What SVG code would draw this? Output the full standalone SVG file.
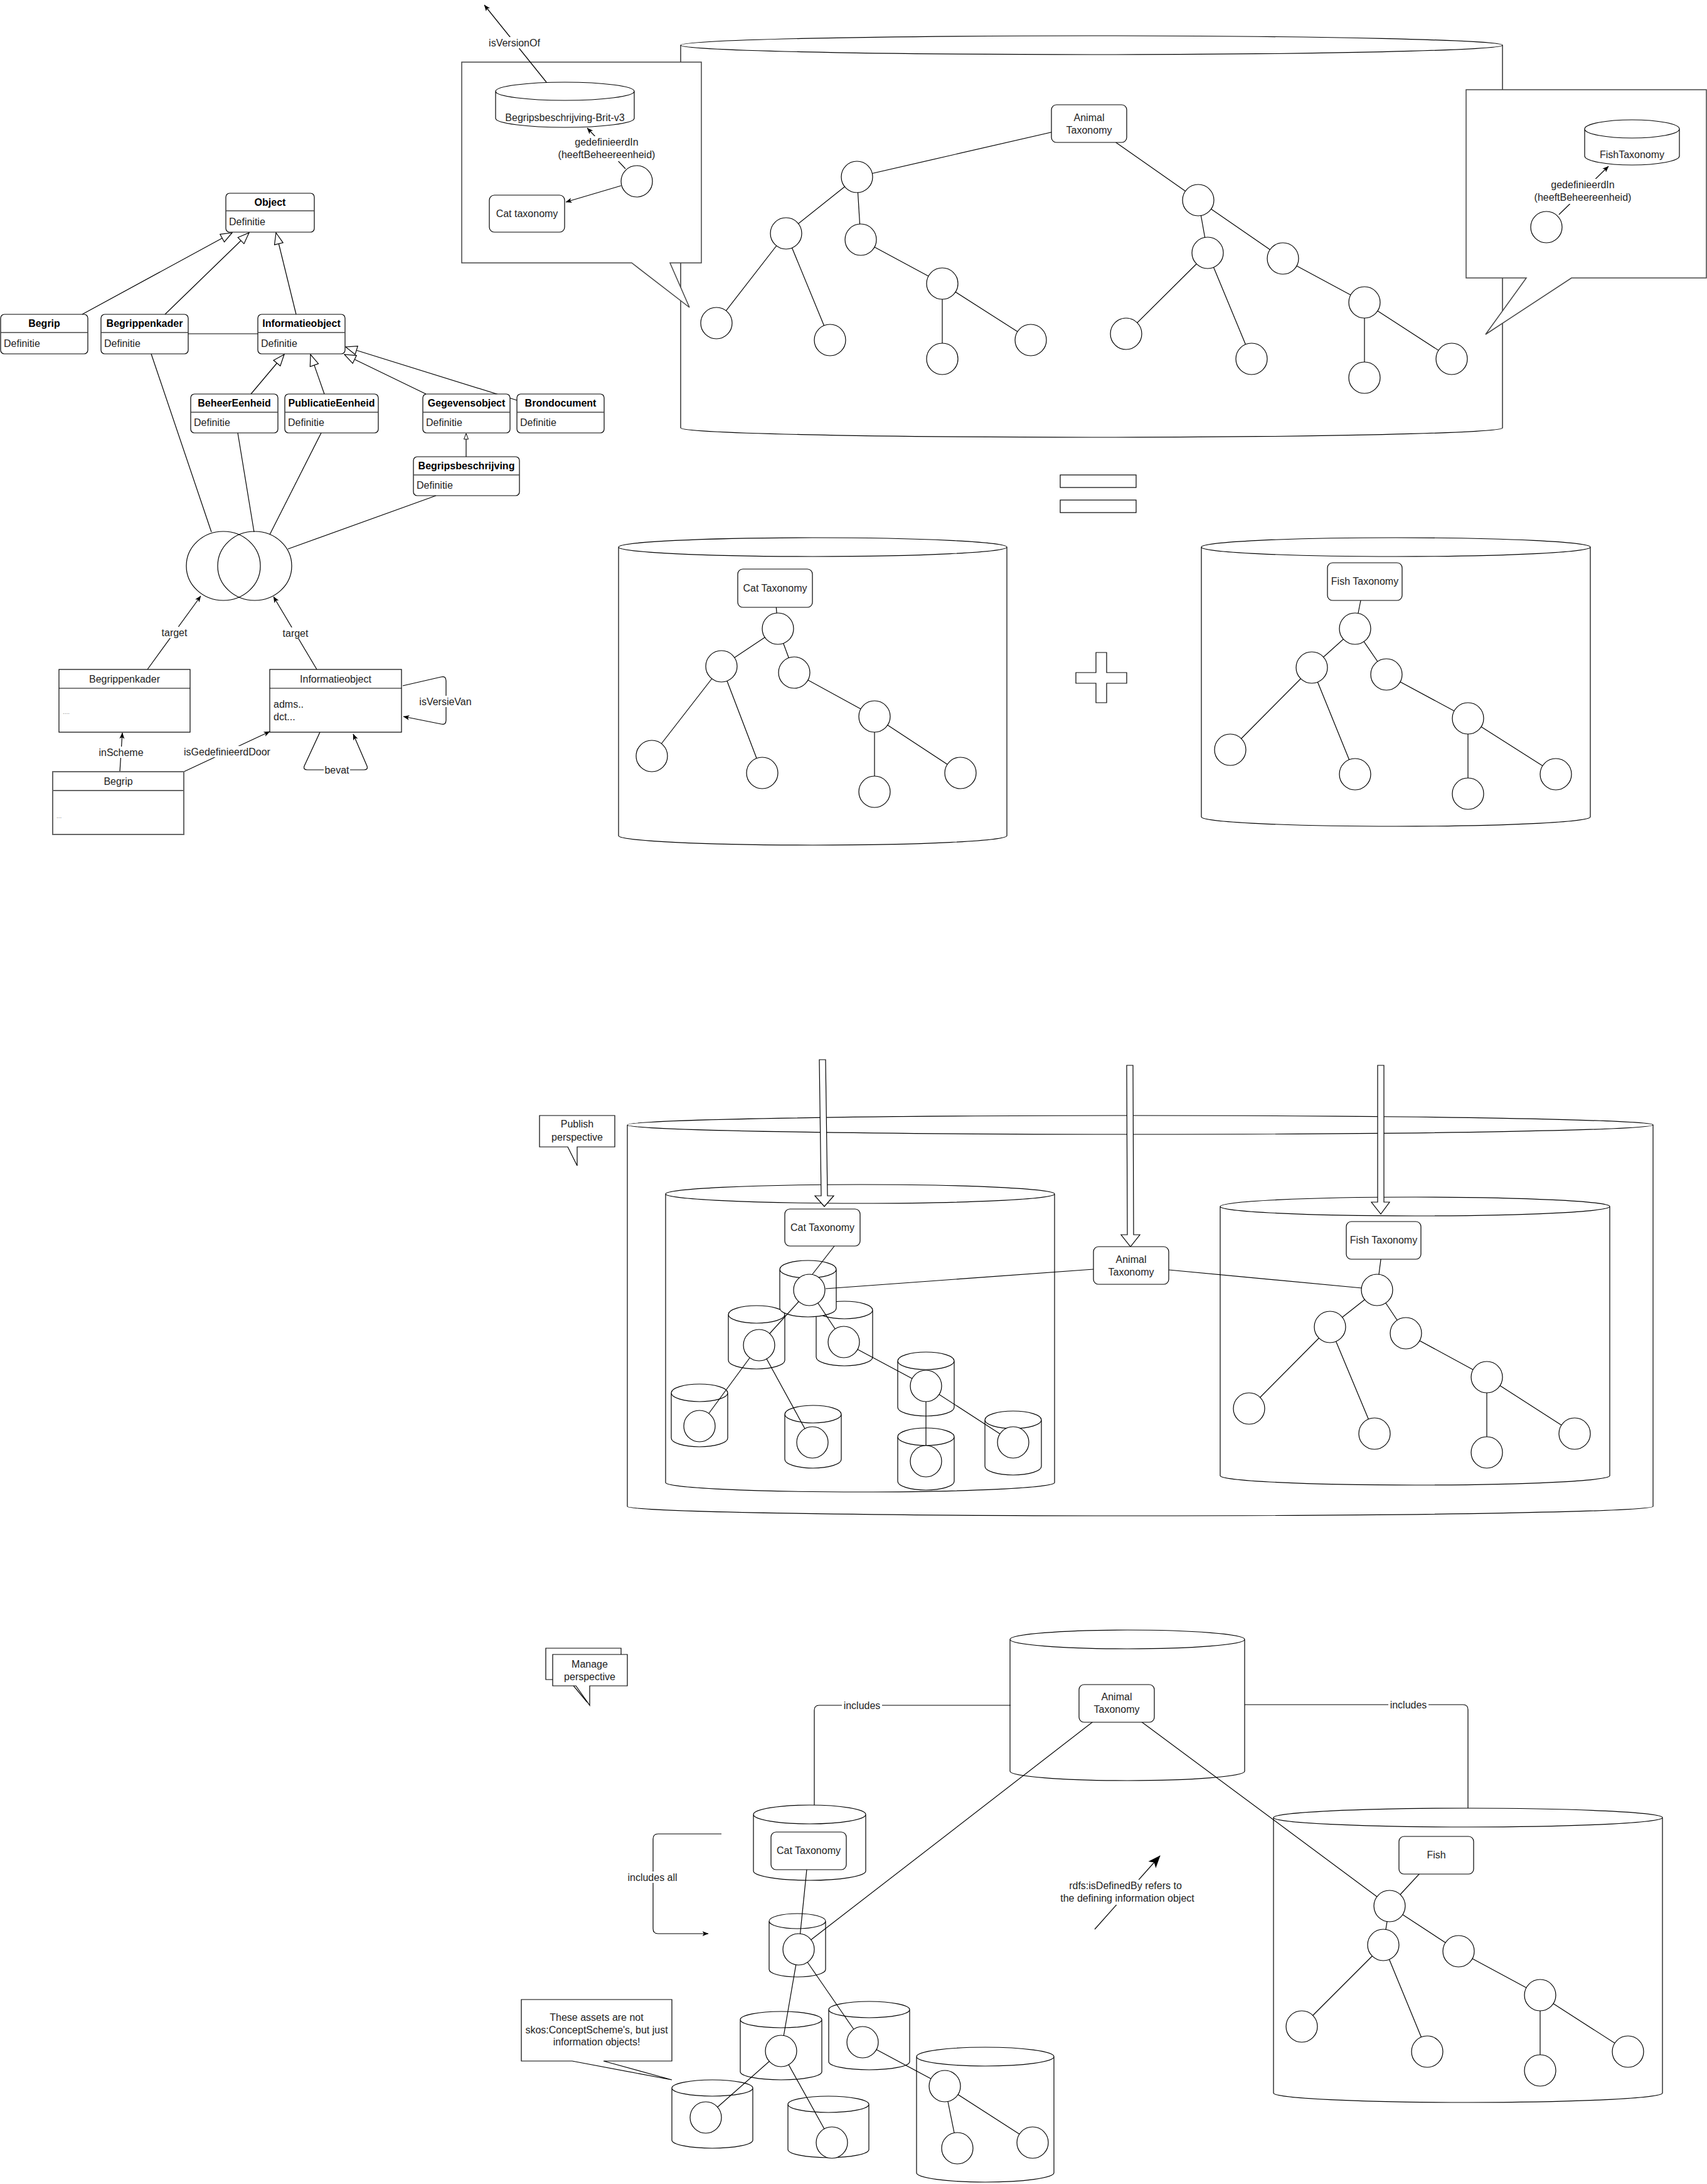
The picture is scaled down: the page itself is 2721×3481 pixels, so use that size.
<svg xmlns="http://www.w3.org/2000/svg" width="2721" height="3481" viewBox="0 0 2721 3481">
<style>
.ln{stroke:#000;stroke-width:1.2;fill:none}
.nd{fill:#fff;stroke:#000;stroke-width:1.2}
.cy{fill:#fff;stroke:#000;stroke-width:1.2}
.co{fill:#fff;stroke:#444;stroke-width:1.5}
.dv{stroke:#444;stroke-width:1.5}
.t{font-family:"Liberation Sans",Arial,Helvetica,sans-serif;font-size:16px;fill:#222}
.s{font-family:"Liberation Sans",Arial,Helvetica,sans-serif;font-size:16px;fill:#222}
.b{font-family:"Liberation Sans",Arial,Helvetica,sans-serif;font-size:16px;font-weight:bold;fill:#000}
.m{text-anchor:middle}
.bg{fill:#fff;stroke:none}
</style>
<defs>
<marker id="arr" viewBox="0 0 10 10" refX="9.5" refY="5" markerWidth="10" markerHeight="10" markerUnits="userSpaceOnUse" orient="auto"><path d="M0,1 L10,5 L0,9 L2.5,5 Z" fill="#000"/></marker>
<marker id="tri" viewBox="0 0 20 16" refX="19" refY="8" markerWidth="20" markerHeight="16" markerUnits="userSpaceOnUse" orient="auto"><path d="M1,1 L19,8 L1,15 Z" fill="#fff" stroke="#000" stroke-width="1.2"/></marker>
<marker id="tris" viewBox="0 0 10 8" refX="9.5" refY="4" markerWidth="10" markerHeight="8" markerUnits="userSpaceOnUse" orient="auto"><path d="M0.5,0.5 L9.5,4 L0.5,7.5 Z" fill="#fff" stroke="#000" stroke-width="1"/></marker>
<marker id="big" viewBox="0 0 20 20" refX="19" refY="10" markerWidth="20" markerHeight="20" markerUnits="userSpaceOnUse" orient="auto"><path d="M0,2 L20,10 L0,18 L5,10 Z" fill="#000"/></marker>
</defs>
<rect x="0" y="0" width="2721" height="3481" fill="#fff"/>

<g id="containers">
<g id="cyl-animal-top"><path class="cy" d="M1085,72 A655,15 0 0 1 2395,72 L2395,682 A655,15 0 0 1 1085,682 Z M1085,72 A655,15 0 0 0 2395,72"/></g>
<g id="callout-left"><path class="co" d="M736,99 L1118,99 L1118,419 L1068,419 L1099,490 L1007,419 L736,419 Z"/></g>
<g id="callout-right"><path class="co" d="M2337,143 L2720,143 L2720,443 L2505,443 L2368,533 L2433,443 L2337,443 Z"/></g>
<g id="cyl-cat-mid"><path class="cy" d="M986,872 A309.5,15 0 0 1 1605,872 L1605,1332 A309.5,15 0 0 1 986,1332 Z M986,872 A309.5,15 0 0 0 1605,872"/></g>
<g id="cyl-fish-mid"><path class="cy" d="M1915,872 A310,15 0 0 1 2535,872 L2535,1302 A310,15 0 0 1 1915,1302 Z M1915,872 A310,15 0 0 0 2535,872"/></g>
<g id="eq"><rect x="1690" y="757" width="121" height="20" class="nd"/><rect x="1690" y="797" width="121" height="20" class="nd"/></g>
<g id="plus"><path class="nd" d="M1747,1040 L1764,1040 L1764,1072 L1796,1072 L1796,1089 L1764,1089 L1764,1120 L1747,1120 L1747,1089 L1715,1089 L1715,1072 L1747,1072 Z"/></g>

<g id="callout-publish"><path class="nd" d="M860,1778 L980,1778 L980,1828 L920,1828 L920,1858 L905,1828 L860,1828 Z"/><text x="920" y="1797" class="s m">Publish</text><text x="920" y="1818" class="s m">perspective</text></g>
<g id="cyl-publish-outer"><path class="cy" d="M1000,1793 A817.5,15 0 0 1 2635,1793 L2635,2401 A817.5,15 0 0 1 1000,2401 Z M1000,1793 A817.5,15 0 0 0 2635,1793"/></g>
<g id="cyl-publish-cat"><path class="cy" d="M1061,1903 A310,15 0 0 1 1681,1903 L1681,2363 A310,15 0 0 1 1061,2363 Z M1061,1903 A310,15 0 0 0 1681,1903"/></g>
<g id="cyl-publish-fish"><path class="cy" d="M1945,1923 A310.5,15 0 0 1 2566,1923 L2566,2352 A310.5,15 0 0 1 1945,2352 Z M1945,1923 A310.5,15 0 0 0 2566,1923"/></g>
<g id="cyl-s2"><path class="cy" d="M1161,2095 A45,14 0 0 1 1251,2095 L1251,2168 A45,14 0 0 1 1161,2168 Z M1161,2095 A45,14 0 0 0 1251,2095"/></g>
<g id="cyl-s3"><path class="cy" d="M1301,2088 A45,14 0 0 1 1391,2088 L1391,2163 A45,14 0 0 1 1301,2163 Z M1301,2088 A45,14 0 0 0 1391,2088"/></g>
<g id="cyl-s1"><path class="cy" d="M1243,2023 A45,14 0 0 1 1333,2023 L1333,2085 A45,14 0 0 1 1243,2085 Z M1243,2023 A45,14 0 0 0 1333,2023"/></g>
<g id="cyl-s4"><path class="cy" d="M1070,2220 A45,14 0 0 1 1160,2220 L1160,2292 A45,14 0 0 1 1070,2292 Z M1070,2220 A45,14 0 0 0 1160,2220"/></g>
<g id="cyl-s5"><path class="cy" d="M1251,2254 A45,14 0 0 1 1341,2254 L1341,2326 A45,14 0 0 1 1251,2326 Z M1251,2254 A45,14 0 0 0 1341,2254"/></g>
<g id="cyl-s6"><path class="cy" d="M1431,2169 A45,14 0 0 1 1521,2169 L1521,2243 A45,14 0 0 1 1431,2243 Z M1431,2169 A45,14 0 0 0 1521,2169"/></g>
<g id="cyl-s7"><path class="cy" d="M1431,2290 A45,14 0 0 1 1521,2290 L1521,2361 A45,14 0 0 1 1431,2361 Z M1431,2290 A45,14 0 0 0 1521,2290"/></g>
<g id="cyl-s8"><path class="cy" d="M1570,2263 A45,14 0 0 1 1660,2263 L1660,2337 A45,14 0 0 1 1570,2337 Z M1570,2263 A45,14 0 0 0 1660,2263"/></g>

<g id="callout-manage"><path class="nd" d="M870,2627 L990,2627 L990,2677 L931,2677 L935,2712 L906,2677 L870,2677 Z"/><path class="nd" d="M881,2637 L1000,2637 L1000,2687 L940,2687 L940,2718 L918,2687 L881,2687 Z"/><text x="940" y="2658" class="s m">Manage</text><text x="940" y="2678" class="s m">perspective</text></g>
<g id="cyl-manage-animal"><path class="cy" d="M1610,2613 A187,15 0 0 1 1984,2613 L1984,2823 A187,15 0 0 1 1610,2823 Z M1610,2613 A187,15 0 0 0 1984,2613"/></g>
<g id="cyl-manage-cat"><path class="cy" d="M1201,2892 A89.5,15 0 0 1 1380,2892 L1380,2982 A89.5,15 0 0 1 1201,2982 Z M1201,2892 A89.5,15 0 0 0 1380,2892"/></g>
<g id="cyl-manage-fish"><path class="cy" d="M2030,2897 A310,15 0 0 1 2650,2897 L2650,3336 A310,15 0 0 1 2030,3336 Z M2030,2897 A310,15 0 0 0 2650,2897"/></g>
<g id="cyl-m1"><path class="cy" d="M1226,3062 A45,12 0 0 1 1316,3062 L1316,3139 A45,12 0 0 1 1226,3139 Z M1226,3062 A45,12 0 0 0 1316,3062"/></g>
<g id="cyl-m2"><path class="cy" d="M1180,3219 A65,13 0 0 1 1310,3219 L1310,3302 A65,13 0 0 1 1180,3302 Z M1180,3219 A65,13 0 0 0 1310,3219"/></g>
<g id="cyl-m3"><path class="cy" d="M1321,3203 A64.5,13 0 0 1 1450,3203 L1450,3286 A64.5,13 0 0 1 1321,3286 Z M1321,3203 A64.5,13 0 0 0 1450,3203"/></g>
<g id="cyl-m4"><path class="cy" d="M1071,3328 A64.5,13 0 0 1 1200,3328 L1200,3411 A64.5,13 0 0 1 1071,3411 Z M1071,3328 A64.5,13 0 0 0 1200,3328"/></g>
<g id="cyl-m5"><path class="cy" d="M1256,3354 A64.5,13 0 0 1 1385,3354 L1385,3426 A64.5,13 0 0 1 1256,3426 Z M1256,3354 A64.5,13 0 0 0 1385,3354"/></g>
<g id="cyl-m6"><path class="cy" d="M1461,3278 A109.5,15 0 0 1 1680,3278 L1680,3463 A109.5,15 0 0 1 1461,3463 Z M1461,3278 A109.5,15 0 0 0 1680,3278"/></g>
<g id="callout-assets"><path class="nd" d="M831,3187 L1071,3187 L1071,3285 L962,3285 L1071,3315 L912,3285 L831,3285 Z"/><text x="951" y="3221" class="s m">These assets are not</text><text x="951" y="3241" class="s m">skos:ConceptScheme's, but just</text><text x="951" y="3260" class="s m">information objects!</text></g>
</g>

<g id="connectors">
<line x1="131" y1="501" x2="370" y2="371" class="ln" marker-end="url(#tri)"/>
<line x1="263" y1="501" x2="397" y2="371" class="ln" marker-end="url(#tri)"/>
<line x1="472" y1="501" x2="440" y2="371" class="ln" marker-end="url(#tri)"/>
<line x1="400" y1="628" x2="453" y2="565" class="ln" marker-end="url(#tri)"/>
<line x1="517" y1="628" x2="495" y2="565" class="ln" marker-end="url(#tri)"/>
<line x1="679" y1="628" x2="549" y2="565" class="ln" marker-end="url(#tri)"/>
<line x1="824" y1="638" x2="551" y2="553" class="ln" marker-end="url(#tri)"/>
<line x1="743" y1="728" x2="743" y2="691" class="ln" marker-end="url(#tris)"/>
<line x1="300" y1="532" x2="411" y2="532" class="ln"/>
<line x1="241" y1="564" x2="337" y2="848" class="ln"/>
<line x1="379" y1="690" x2="405" y2="848" class="ln"/>
<line x1="512" y1="690" x2="430" y2="852" class="ln"/>
<line x1="695" y1="790" x2="459" y2="875" class="ln"/>
<line x1="235" y1="1067" x2="320" y2="950" class="ln" marker-end="url(#arr)"/>
<rect x="256" y="999" width="44" height="18" class="bg"/><text x="278" y="1014" class="s m">target</text>
<line x1="505" y1="1067" x2="436" y2="951" class="ln" marker-end="url(#arr)"/>
<rect x="449" y="1000" width="44" height="18" class="bg"/><text x="471" y="1015" class="s m">target</text>
<line x1="191" y1="1230" x2="195" y2="1168" class="ln" marker-end="url(#arr)"/>
<rect x="158" y="1190" width="70" height="18" class="bg"/><text x="193" y="1205" class="s m">inScheme</text>
<line x1="293" y1="1230" x2="430" y2="1166" class="ln" marker-end="url(#arr)"/>
<rect x="292" y="1189" width="140" height="18" class="bg"/><text x="362" y="1204" class="s m">isGedefinieerdDoor</text>
<path d="M642,1093 L703,1079 Q711,1077 711,1085 L711,1148 Q711,1156 703,1154 L643,1142" class="ln" marker-end="url(#arr)"/>
<rect x="670" y="1109" width="80" height="18" class="bg"/><text x="710" y="1124" class="s m">isVersieVan</text>
<path d="M510,1167 L485,1221 Q483,1227 490,1227 L580,1227 Q587,1227 585,1221 L563,1170" class="ln" marker-end="url(#arr)"/>
<rect x="516" y="1218" width="42" height="18" class="bg"/><text x="537" y="1233" class="s m">bevat</text>
<line x1="871" y1="131" x2="772" y2="8" class="ln" marker-end="url(#arr)"/>
<rect x="779" y="59" width="82" height="18" class="bg"/><text x="820" y="74" class="s m">isVersionOf</text>
<line x1="997" y1="269" x2="936" y2="204" class="ln" marker-end="url(#arr)"/>
<rect x="890" y="217" width="154" height="40" class="bg"/><text x="967" y="232" class="s m">gedefinieerdIn</text><text x="967" y="252" class="s m">(heeftBeheereenheid)</text>
<line x1="990" y1="296" x2="902" y2="322" class="ln" marker-end="url(#arr)"/>
<line x1="2485" y1="342" x2="2564" y2="265" class="ln" marker-end="url(#arr)"/>
<rect x="2446" y="285" width="154" height="40" class="bg"/><text x="2523" y="300" class="s m">gedefinieerdIn</text><text x="2523" y="320" class="s m">(heeftBeheereenheid)</text>
<line x1="1736" y1="197" x2="1366" y2="282" class="ln"/>
<line x1="1736" y1="197" x2="1910" y2="319" class="ln"/>
<line x1="1366" y1="282" x2="1253" y2="372" class="ln"/>
<line x1="1366" y1="282" x2="1372" y2="382" class="ln"/>
<line x1="1253" y1="372" x2="1142" y2="515" class="ln"/>
<line x1="1253" y1="372" x2="1323" y2="542" class="ln"/>
<line x1="1372" y1="382" x2="1502" y2="452" class="ln"/>
<line x1="1502" y1="452" x2="1502" y2="572" class="ln"/>
<line x1="1502" y1="452" x2="1643" y2="542" class="ln"/>
<line x1="1910" y1="319" x2="1925" y2="403" class="ln"/>
<line x1="1910" y1="319" x2="2045" y2="412" class="ln"/>
<line x1="1925" y1="403" x2="1795" y2="532" class="ln"/>
<line x1="1925" y1="403" x2="1995" y2="572" class="ln"/>
<line x1="2045" y1="412" x2="2175" y2="482" class="ln"/>
<line x1="2175" y1="482" x2="2175" y2="602" class="ln"/>
<line x1="2175" y1="482" x2="2314" y2="572" class="ln"/>
<line x1="1235" y1="938" x2="1240" y2="1002" class="ln"/>
<line x1="1240" y1="1002" x2="1150" y2="1062" class="ln"/>
<line x1="1240" y1="1002" x2="1266" y2="1072" class="ln"/>
<line x1="1150" y1="1062" x2="1039" y2="1205" class="ln"/>
<line x1="1150" y1="1062" x2="1215" y2="1232" class="ln"/>
<line x1="1266" y1="1072" x2="1394" y2="1142" class="ln"/>
<line x1="1394" y1="1142" x2="1394" y2="1262" class="ln"/>
<line x1="1394" y1="1142" x2="1531" y2="1232" class="ln"/>
<line x1="2175" y1="927" x2="2160" y2="1002" class="ln"/>
<line x1="2160" y1="1002" x2="2091" y2="1064" class="ln"/>
<line x1="2160" y1="1002" x2="2210" y2="1075" class="ln"/>
<line x1="2091" y1="1064" x2="1961" y2="1195" class="ln"/>
<line x1="2091" y1="1064" x2="2160" y2="1234" class="ln"/>
<line x1="2210" y1="1075" x2="2340" y2="1145" class="ln"/>
<line x1="2340" y1="1145" x2="2340" y2="1265" class="ln"/>
<line x1="2340" y1="1145" x2="2480" y2="1234" class="ln"/>
<line x1="1330" y1="1986" x2="1295" y2="2031" class="ln"/>
<line x1="1316" y1="2054" x2="1743" y2="2023" class="ln"/>
<line x1="1290" y1="2056" x2="1210" y2="2144" class="ln"/>
<line x1="1290" y1="2056" x2="1345" y2="2139" class="ln"/>
<line x1="1210" y1="2144" x2="1115" y2="2273" class="ln"/>
<line x1="1210" y1="2144" x2="1295" y2="2299" class="ln"/>
<line x1="1345" y1="2139" x2="1476" y2="2209" class="ln"/>
<line x1="1476" y1="2209" x2="1476" y2="2329" class="ln"/>
<line x1="1476" y1="2209" x2="1615" y2="2299" class="ln"/>
<line x1="2205" y1="1977" x2="2198" y2="2031" class="ln"/>
<line x1="1863" y1="2024" x2="2171" y2="2053" class="ln"/>
<line x1="2195" y1="2056" x2="2120" y2="2115" class="ln"/>
<line x1="2195" y1="2056" x2="2241" y2="2125" class="ln"/>
<line x1="2120" y1="2115" x2="1991" y2="2245" class="ln"/>
<line x1="2120" y1="2115" x2="2191" y2="2285" class="ln"/>
<line x1="2241" y1="2125" x2="2370" y2="2195" class="ln"/>
<line x1="2370" y1="2195" x2="2370" y2="2315" class="ln"/>
<line x1="2370" y1="2195" x2="2510" y2="2285" class="ln"/>
<path class="nd" d="M1306,1689 L1316,1689 L1319,1906 L1329,1906 L1314,1923 L1299,1906 L1309,1906 Z"/>
<path class="nd" d="M1796,1698 L1806,1698 L1807,1968 L1817,1968 L1802,1987 L1787,1968 L1797,1968 Z"/>
<path class="nd" d="M2196,1698 L2206,1698 L2206,1916 L2215,1916 L2201,1935 L2186,1916 L2196,1916 Z"/>
<path d="M1611,2718 L1306,2718 Q1298,2718 1298,2726 L1298,2877" class="ln"/>
<rect x="1342" y="2709" width="64" height="18" class="bg"/><text x="1374" y="2724" class="s m">includes</text>
<path d="M1984,2717 L2332,2717 Q2340,2717 2340,2725 L2340,2882" class="ln"/>
<rect x="2213" y="2708" width="64" height="18" class="bg"/><text x="2245" y="2723" class="s m">includes</text>
<path d="M1150,2923 L1049,2923 Q1041,2923 1041,2931 L1041,3074 Q1041,3082 1049,3082 L1129,3082" class="ln" marker-end="url(#arr)"/>
<rect x="996" y="2983" width="88" height="18" class="bg"/><text x="1040" y="2998" class="s m">includes all</text>
<line x1="1289" y1="2950" x2="1273" y2="3107" class="ln"/>
<line x1="1273" y1="3107" x2="1780" y2="2715" class="ln"/>
<line x1="1780" y1="2715" x2="2215" y2="3038" class="ln"/>
<line x1="2290" y1="2957" x2="2215" y2="3038" class="ln"/>
<line x1="1273" y1="3107" x2="1245" y2="3269" class="ln"/>
<line x1="1273" y1="3107" x2="1375" y2="3255" class="ln"/>
<line x1="1245" y1="3269" x2="1125" y2="3375" class="ln"/>
<line x1="1245" y1="3269" x2="1326" y2="3415" class="ln"/>
<line x1="1375" y1="3255" x2="1506" y2="3325" class="ln"/>
<line x1="1506" y1="3325" x2="1526" y2="3424" class="ln"/>
<line x1="1506" y1="3325" x2="1646" y2="3415" class="ln"/>
<line x1="2215" y1="3038" x2="2205" y2="3100" class="ln"/>
<line x1="2215" y1="3038" x2="2325" y2="3110" class="ln"/>
<line x1="2205" y1="3100" x2="2075" y2="3230" class="ln"/>
<line x1="2205" y1="3100" x2="2275" y2="3270" class="ln"/>
<line x1="2325" y1="3110" x2="2455" y2="3180" class="ln"/>
<line x1="2455" y1="3180" x2="2455" y2="3300" class="ln"/>
<line x1="2455" y1="3180" x2="2595" y2="3270" class="ln"/>
<line x1="1745" y1="3075" x2="1849" y2="2958" class="ln" marker-end="url(#big)"/>
<rect x="1684" y="2996" width="228" height="40" class="bg"/><text x="1794" y="3011" class="s m">rdfs:isDefinedBy refers to</text><text x="1797" y="3031" class="s m">the defining information object</text>
</g>

<g id="nodes">
<g id="n-object"><rect x="360" y="308" width="141" height="62" rx="6" class="nd"/><line x1="360" y1="336" x2="501" y2="336" class="dv"/><text x="430.5" y="328" class="b m">Object</text><text x="365" y="359" class="t">Definitie</text></g>
<g id="n-begrip"><rect x="1" y="501" width="139" height="63" rx="6" class="nd"/><line x1="1" y1="530" x2="140" y2="530" class="dv"/><text x="70.5" y="521" class="b m">Begrip</text><text x="6" y="553" class="t">Definitie</text></g>
<g id="n-begrippenkader"><rect x="161" y="501" width="139" height="63" rx="6" class="nd"/><line x1="161" y1="530" x2="300" y2="530" class="dv"/><text x="230.5" y="521" class="b m">Begrippenkader</text><text x="166" y="553" class="t">Definitie</text></g>
<g id="n-informatieobject"><rect x="411" y="501" width="139" height="63" rx="6" class="nd"/><line x1="411" y1="530" x2="550" y2="530" class="dv"/><text x="480.5" y="521" class="b m">Informatieobject</text><text x="416" y="553" class="t">Definitie</text></g>
<g id="n-beheereenheid"><rect x="304" y="628" width="139" height="62" rx="6" class="nd"/><line x1="304" y1="657" x2="443" y2="657" class="dv"/><text x="373.5" y="648" class="b m">BeheerEenheid</text><text x="309" y="679" class="t">Definitie</text></g>
<g id="n-publicatieeenheid"><rect x="454" y="628" width="149" height="62" rx="6" class="nd"/><line x1="454" y1="657" x2="603" y2="657" class="dv"/><text x="528.5" y="648" class="b m">PublicatieEenheid</text><text x="459" y="679" class="t">Definitie</text></g>
<g id="n-gegevensobject"><rect x="674" y="628" width="139" height="62" rx="6" class="nd"/><line x1="674" y1="657" x2="813" y2="657" class="dv"/><text x="743.5" y="648" class="b m">Gegevensobject</text><text x="679" y="679" class="t">Definitie</text></g>
<g id="n-brondocument"><rect x="824" y="628" width="139" height="62" rx="6" class="nd"/><line x1="824" y1="657" x2="963" y2="657" class="dv"/><text x="893.5" y="648" class="b m">Brondocument</text><text x="829" y="679" class="t">Definitie</text></g>
<g id="n-begripsbeschrijving"><rect x="659" y="728" width="169" height="62" rx="6" class="nd"/><line x1="659" y1="757" x2="828" y2="757" class="dv"/><text x="743.5" y="748" class="b m">Begripsbeschrijving</text><text x="664" y="779" class="t">Definitie</text></g>
<g id="n-venn"><ellipse cx="356" cy="902" rx="59" ry="55" class="ln"/><ellipse cx="406" cy="902" rx="59" ry="55" class="ln"/></g>
<g id="n-c-begrippenkader"><rect x="94" y="1067" width="209" height="100" class="nd"/><line x1="94" y1="1097" x2="303" y2="1097" class="ln"/><text x="198.5" y="1088" class="t m">Begrippenkader</text><text x="100" y="1138" class="t" style="font-size:10px;fill:#888">....</text></g>
<g id="n-c-informatieobject"><rect x="430" y="1067" width="210" height="100" class="nd"/><line x1="430" y1="1097" x2="640" y2="1097" class="ln"/><text x="535" y="1088" class="t m">Informatieobject</text><text x="436" y="1128" class="t">adms..</text><text x="436" y="1148" class="t">dct...</text></g>
<g id="n-c-begrip"><rect x="84" y="1230" width="209" height="100" fill="#fff" stroke="#666" stroke-width="2"/><line x1="84" y1="1260" x2="293" y2="1260" stroke="#666" stroke-width="2"/><text x="188.5" y="1251" class="t m">Begrip</text><text x="90" y="1304" class="t" style="font-size:10px;fill:#888">...</text></g>
<g id="n-bb-cyl"><path class="cy" d="M790,145.5 A110.5,14.5 0 0 1 1011,145.5 L1011,188.5 A110.5,14.5 0 0 1 790,188.5 Z M790,145.5 A110.5,14.5 0 0 0 1011,145.5"/><text x="900.5" y="193" class="s m">Begripsbeschrijving-Brit-v3</text></g>
<g id="n-cb1"><circle cx="1015" cy="289" r="25" class="nd"/></g>
<g id="n-cattax-callout"><rect x="780" y="311" width="120" height="59" rx="8" class="nd"/><text x="840" y="346" class="t m">Cat taxonomy</text></g>
<g id="n-fishtax-cyl"><path class="cy" d="M2526,205.5 A75.5,14.5 0 0 1 2677,205.5 L2677,248.5 A75.5,14.5 0 0 1 2526,248.5 Z M2526,205.5 A75.5,14.5 0 0 0 2677,205.5"/><text x="2601.5" y="252" class="s m">FishTaxonomy</text></g>
<g id="n-cb2"><circle cx="2465" cy="362" r="25" class="nd"/></g>
<g id="n-animal-top"><rect x="1676" y="167" width="120" height="60" rx="8" class="nd"/><text x="1736" y="193" class="t m">Animal</text><text x="1736" y="213" class="t m">Taxonomy</text></g>
<g id="n-a1"><circle cx="1366" cy="282" r="25" class="nd"/></g>
<g id="n-a2"><circle cx="1253" cy="372" r="25" class="nd"/></g>
<g id="n-a3"><circle cx="1372" cy="382" r="25" class="nd"/></g>
<g id="n-a4"><circle cx="1142" cy="515" r="25" class="nd"/></g>
<g id="n-a5"><circle cx="1323" cy="542" r="25" class="nd"/></g>
<g id="n-a6"><circle cx="1502" cy="452" r="25" class="nd"/></g>
<g id="n-a7"><circle cx="1502" cy="572" r="25" class="nd"/></g>
<g id="n-a8"><circle cx="1643" cy="542" r="25" class="nd"/></g>
<g id="n-b1"><circle cx="1910" cy="319" r="25" class="nd"/></g>
<g id="n-b2"><circle cx="1925" cy="403" r="25" class="nd"/></g>
<g id="n-b3"><circle cx="2045" cy="412" r="25" class="nd"/></g>
<g id="n-b4"><circle cx="1795" cy="532" r="25" class="nd"/></g>
<g id="n-b5"><circle cx="1995" cy="572" r="25" class="nd"/></g>
<g id="n-b6"><circle cx="2175" cy="482" r="25" class="nd"/></g>
<g id="n-b7"><circle cx="2175" cy="602" r="25" class="nd"/></g>
<g id="n-b8"><circle cx="2314" cy="572" r="25" class="nd"/></g>
<g id="n-cat-mid"><rect x="1176" y="907" width="119" height="61" rx="8" class="nd"/><text x="1235.5" y="943" class="t m">Cat Taxonomy</text></g>
<g id="n-c1"><circle cx="1240" cy="1002" r="25" class="nd"/></g>
<g id="n-c2"><circle cx="1150" cy="1062" r="25" class="nd"/></g>
<g id="n-c3"><circle cx="1266" cy="1072" r="25" class="nd"/></g>
<g id="n-c4"><circle cx="1039" cy="1205" r="25" class="nd"/></g>
<g id="n-c5"><circle cx="1215" cy="1232" r="25" class="nd"/></g>
<g id="n-c6"><circle cx="1394" cy="1142" r="25" class="nd"/></g>
<g id="n-c7"><circle cx="1394" cy="1262" r="25" class="nd"/></g>
<g id="n-c8"><circle cx="1531" cy="1232" r="25" class="nd"/></g>
<g id="n-fish-mid"><rect x="2116" y="897" width="119" height="60" rx="8" class="nd"/><text x="2175.5" y="932" class="t m">Fish Taxonomy</text></g>
<g id="n-f1"><circle cx="2160" cy="1002" r="25" class="nd"/></g>
<g id="n-f2"><circle cx="2091" cy="1064" r="25" class="nd"/></g>
<g id="n-f3"><circle cx="2210" cy="1075" r="25" class="nd"/></g>
<g id="n-f4"><circle cx="1961" cy="1195" r="25" class="nd"/></g>
<g id="n-f5"><circle cx="2160" cy="1234" r="25" class="nd"/></g>
<g id="n-f6"><circle cx="2340" cy="1145" r="25" class="nd"/></g>
<g id="n-f7"><circle cx="2340" cy="1265" r="25" class="nd"/></g>
<g id="n-f8"><circle cx="2480" cy="1234" r="25" class="nd"/></g>
<g id="n-cat-pub"><rect x="1251" y="1927" width="120" height="59" rx="8" class="nd"/><text x="1311" y="1962" class="t m">Cat Taxonomy</text></g>
<g id="n-s1"><circle cx="1290" cy="2056" r="25" class="nd"/></g>
<g id="n-s2"><circle cx="1210" cy="2144" r="25" class="nd"/></g>
<g id="n-s3"><circle cx="1345" cy="2139" r="25" class="nd"/></g>
<g id="n-s4"><circle cx="1115" cy="2273" r="25" class="nd"/></g>
<g id="n-s5"><circle cx="1295" cy="2299" r="25" class="nd"/></g>
<g id="n-s6"><circle cx="1476" cy="2209" r="25" class="nd"/></g>
<g id="n-s7"><circle cx="1476" cy="2329" r="25" class="nd"/></g>
<g id="n-s8"><circle cx="1615" cy="2299" r="25" class="nd"/></g>
<g id="n-animal-pub"><rect x="1743" y="1987" width="120" height="60" rx="8" class="nd"/><text x="1803" y="2013" class="t m">Animal</text><text x="1803" y="2033" class="t m">Taxonomy</text></g>
<g id="n-fish-pub"><rect x="2146" y="1947" width="119" height="60" rx="8" class="nd"/><text x="2205.5" y="1982" class="t m">Fish Taxonomy</text></g>
<g id="n-p1"><circle cx="2195" cy="2056" r="25" class="nd"/></g>
<g id="n-p2"><circle cx="2120" cy="2115" r="25" class="nd"/></g>
<g id="n-p3"><circle cx="2241" cy="2125" r="25" class="nd"/></g>
<g id="n-p4"><circle cx="1991" cy="2245" r="25" class="nd"/></g>
<g id="n-p5"><circle cx="2191" cy="2285" r="25" class="nd"/></g>
<g id="n-p6"><circle cx="2370" cy="2195" r="25" class="nd"/></g>
<g id="n-p7"><circle cx="2370" cy="2315" r="25" class="nd"/></g>
<g id="n-p8"><circle cx="2510" cy="2285" r="25" class="nd"/></g>
<g id="n-animal-man"><rect x="1720" y="2685" width="120" height="60" rx="8" class="nd"/><text x="1780" y="2710" class="t m">Animal</text><text x="1780" y="2730" class="t m">Taxonomy</text></g>
<g id="n-cat-man"><rect x="1229" y="2920" width="120" height="60" rx="8" class="nd"/><text x="1289" y="2955" class="t m">Cat Taxonomy</text></g>
<g id="n-fish-man"><rect x="2230" y="2927" width="119" height="60" rx="8" class="nd"/><text x="2289.5" y="2962" class="t m">Fish</text></g>
<g id="n-m1"><circle cx="1273" cy="3107" r="25" class="nd"/></g>
<g id="n-m2"><circle cx="1245" cy="3269" r="25" class="nd"/></g>
<g id="n-m3"><circle cx="1375" cy="3255" r="25" class="nd"/></g>
<g id="n-m4"><circle cx="1125" cy="3375" r="25" class="nd"/></g>
<g id="n-m5"><circle cx="1326" cy="3415" r="25" class="nd"/></g>
<g id="n-m6a"><circle cx="1506" cy="3325" r="25" class="nd"/></g>
<g id="n-m6b"><circle cx="1526" cy="3424" r="25" class="nd"/></g>
<g id="n-m6c"><circle cx="1646" cy="3415" r="25" class="nd"/></g>
<g id="n-q1"><circle cx="2215" cy="3038" r="25" class="nd"/></g>
<g id="n-q2"><circle cx="2205" cy="3100" r="25" class="nd"/></g>
<g id="n-q3"><circle cx="2325" cy="3110" r="25" class="nd"/></g>
<g id="n-q4"><circle cx="2075" cy="3230" r="25" class="nd"/></g>
<g id="n-q5"><circle cx="2275" cy="3270" r="25" class="nd"/></g>
<g id="n-q6"><circle cx="2455" cy="3180" r="25" class="nd"/></g>
<g id="n-q7"><circle cx="2455" cy="3300" r="25" class="nd"/></g>
<g id="n-q8"><circle cx="2595" cy="3270" r="25" class="nd"/></g>
</g>
</svg>
